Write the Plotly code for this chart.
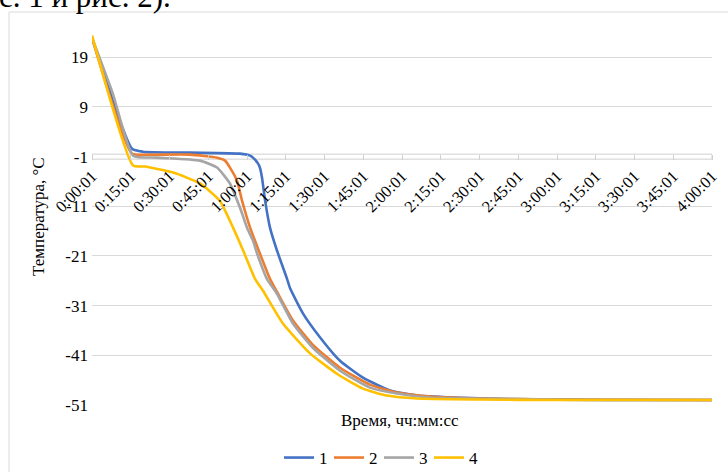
import plotly.graph_objects as go

# ---- data (time in minutes from 0:00:01, temperature in °C) ----
t1 = [0, 15.5, 19.7, 37.9, 57.3, 61.2, 62.3, 64.3, 65.0, 65.8, 67.0, 68.9, 71.6, 75.5, 76.6, 81.7, 88.3, 96.0, 104.9, 115.4, 125.8, 140, 160, 200, 241]
v1 = [22.96, 0.6, 0.0, -0.2, -0.4, -0.8, -1.2, -2.4, -3.2, -5.2, -9.8, -15.3, -19.9, -25.6, -27.4, -32.6, -37.4, -42.1, -45.5, -48.1, -49.1, -49.5, -49.8, -50.0, -50.0]

t2 = [0, 15.5, 22.5, 37.9, 48.4, 51.5, 53.4, 56.1, 58.1, 61.2, 65.0, 68.9, 71.6, 77.8, 85.5, 96.0, 107.6, 118.0, 130.8, 150, 180, 241]
v2 = [22.96, -0.4, -0.6, -0.6, -1.2, -1.8, -3.2, -5.8, -9.9, -15.3, -20.5, -25.6, -28.2, -34.0, -38.9, -43.5, -46.9, -48.5, -49.3, -49.7, -49.9, -50.0]

t3 = [0, 8, 15.9, 25.2, 41.8, 48.4, 53.4, 57.3, 60.0, 62.3, 63.9, 67.7, 71.6, 77.8, 85.5, 96.0, 107.6, 118.0, 130.8, 160, 200, 241]
v3 = [22.96, 11.8, -0.8, -1.2, -1.8, -3.2, -6.4, -11.3, -15.3, -17.9, -20.5, -25.6, -28.6, -34.6, -39.5, -44.1, -47.5, -48.7, -49.5, -49.8, -50.0, -50.0]

t4 = [0, 15.9, 20.5, 31.4, 41.8, 49.5, 54.6, 58.5, 63.1, 66.2, 73.9, 84.4, 94.8, 104.9, 114.2, 125.8, 150, 180, 241]
v4 = [23.4, -2.8, -3.0, -4.2, -6.4, -9.9, -15.3, -19.9, -25.6, -28.0, -34.6, -40.6, -44.7, -47.7, -49.1, -49.7, -49.9, -50.0, -50.0]

series_names = ["1", "2", "3", "4"]
series_colors = ["#4472C4", "#ED7D31", "#A5A5A5", "#FFC000"]

tick_minutes = list(range(0, 241, 15))
tick_labels = ["0:00:01", "0:15:01", "0:30:01", "0:45:01", "1:00:01", "1:15:01", "1:30:01",
               "1:45:01", "2:00:01", "2:15:01", "2:30:01", "2:45:01", "3:00:01", "3:15:01",
               "3:30:01", "3:45:01", "4:00:01"]
y_ticks = [19, 9, -1, -11, -21, -31, -41, -51]
y_tick_labels = ["19", "9", "-1", "-11", "-21", "-31", "-41", "-51"]
y_range = [-51, 25]
x_range = [0, 240]

W, H = 728, 472
FONT = "Liberation Serif"

# plot area in pixels
px_l, px_r = 92, 712
py_t, py_b = 27.5, 405
dom_x = [px_l / W, px_r / W]
dom_y = [1 - py_b / H, 1 - py_t / H]

fig = go.Figure()
for t, v, n, c in zip([t1, t2, t3, t4], [v1, v2, v3, v4], series_names, series_colors):
    fig.add_trace(go.Scatter(x=t, y=v, mode="lines", name=n,
                             line=dict(color=c, width=2.6, shape="spline", smoothing=0.5)))

# x axis crossing at y=-1
frac = (-1 - y_range[0]) / (y_range[1] - y_range[0])
x_pos = dom_y[0] + frac * (dom_y[1] - dom_y[0]) + 2.5 / H

fig.update_layout(
    width=W, height=H,
    margin=dict(l=0, r=0, t=0, b=0, autoexpand=False),
    paper_bgcolor="white", plot_bgcolor="white",
    font=dict(family=FONT, size=17, color="#000000"),
    showlegend=True,
    legend=dict(orientation="h", x=379 / W, xanchor="center", y=1 - 458 / H, yanchor="middle",
                font=dict(family=FONT, size=17), itemwidth=30, traceorder="normal",
                entrywidth=5, entrywidthmode="pixels",
                bgcolor="rgba(0,0,0,0)"),
    xaxis=dict(domain=dom_x, range=x_range, anchor="free", position=x_pos, automargin=False,
               tickvals=tick_minutes, ticktext=tick_labels, tickangle=-45,
               ticks="outside", ticklen=5, tickcolor="#d0d0d0", showline=False,
               showgrid=False, zeroline=False, tickfont=dict(family=FONT, size=16.5)),
    yaxis=dict(domain=dom_y, range=y_range, tickvals=y_ticks, ticktext=y_tick_labels,
               automargin=False,
               showgrid=True, gridcolor="#d9d9d9", gridwidth=1, zeroline=False,
               showline=False, ticks="", ticklabelstandoff=3,
               tickfont=dict(family=FONT, size=17)),
)

# axis band at y=-1 (Excel axis line with cross ticks)
fig.add_shape(type="rect", xref="x", yref="y", x0=x_range[0], x1=x_range[1],
              ysizemode="pixel", yanchor=-1, y0=-2.5, y1=2.5,
              line=dict(color="#d0d0d0", width=1), fillcolor="white", layer="between")

# chart border
fig.add_shape(type="rect", xref="paper", yref="paper", x0=9 / W, x1=1.05, y0=-0.05, y1=1 - 12 / H,
              line=dict(color="#d9d9d9", width=1), fillcolor="rgba(0,0,0,0)", layer="below")

# axis titles
fig.add_annotation(text="Температура, °С", xref="paper", yref="paper", x=38 / W, y=1 - 217 / H,
                   textangle=-90, showarrow=False, font=dict(family=FONT, size=17),
                   xanchor="center", yanchor="middle")
fig.add_annotation(text="Время, чч:мм:сс", xref="paper", yref="paper", x=400 / W, y=1 - 420 / H,
                   showarrow=False, font=dict(family=FONT, size=17),
                   xanchor="center", yanchor="middle")

# cropped document text above the chart
fig.add_annotation(text="с. 1 и рис. 2).", xref="paper", yref="paper", x=-3 / W, y=1 - 16 / H,
                   showarrow=False, font=dict(family=FONT, size=31, color="#000000"),
                   xanchor="left", yanchor="bottom")

fig.write_html("out.html")
